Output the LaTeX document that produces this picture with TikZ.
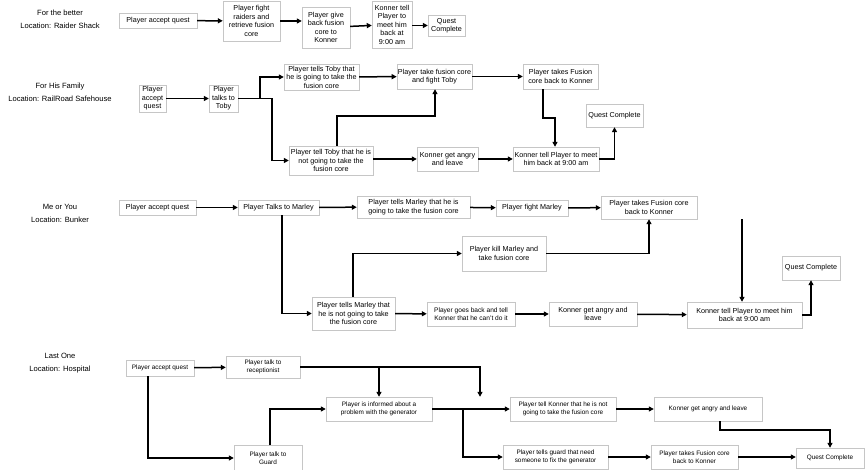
\documentclass[tikz,border=0pt]{standalone}
\usepackage{fontspec}
\setmainfont{Liberation Sans}
\usetikzlibrary{arrows.meta}
\tikzset{box/.style n args={2}{draw=gray!45, fill=white, align=center, inner xsep=1pt, inner ysep=1pt,
           minimum width=#1, minimum height=#2, font=\fontsize{7.2}{8.5}\selectfont},
         sbox/.style n args={2}{box={#1}{#2}, font=\fontsize{6.4}{8}\selectfont},
         arr/.style={-{Triangle[length=5pt,width=5pt]}, line width=1.5pt},
         title/.style={align=center, font=\fontsize{7.6}{13}\selectfont}}
\begin{document}
\begin{tikzpicture}[x=1pt, y=-1pt]
\useasboundingbox (0,0) rectangle (865,470);
% For the better
\node[title] (t1) at (60,19) {For the better\\Location: Raider Shack};
\node[box={78pt}{15pt}] (a1) at (158,20.5) {Player accept quest};
\node[box={57pt}{40pt}] (b1) at (251.5,21) {Player fight\\raiders and\\retrieve fusion\\core};
\node[box={48pt}{41pt}] (c1) at (326,27.5) {Player give\\back fusion\\core to\\Konner};
\node[box={40pt}{47pt}] (d1) at (392,24.5) {Konner tell\\Player to\\meet him\\back at\\9:00 am};
\node[box={37pt}{21pt}] (e1) at (446.5,25.5) {Quest\\Complete};
\draw[arr] (a1) -- (b1);
\draw[arr] (b1) -- (b1 -| c1.west);
\draw[arr] (c1) -- (d1);
\draw[arr] (d1.east |- e1) -- (e1);
% For His Family
\node[title] (t2) at (60,92) {For His Family\\Location: RailRoad Safehouse};
\node[box={27pt}{27pt}] (a2) at (152.5,98.5) {Player\\accept\\quest};
\node[box={29pt}{27pt}] (b2) at (223.5,98.5) {Player\\talks to\\Toby};
\node[box={75pt}{26pt}] (c2) at (321.5,77) {Player tells Toby that\\he is going to take the\\fusion core};
\node[box={84pt}{29pt}] (d2) at (331,160.5) {Player tell Toby that he is\\not going to take the\\fusion core};
\node[box={75pt}{25pt}] (e2) at (434.5,76.5) {Player take fusion core\\and fight Toby};
\node[box={75pt}{25pt}] (f2) at (560.5,76.5) {Player takes Fusion\\core back to Konner};
\node[box={61pt}{24pt}] (g2) at (447.5,159) {Konner get angry\\and leave};
\node[box={86pt}{24pt}] (h2) at (556,159) {Konner tell Player to meet\\him back at 9:00 am};
\node[box={57pt}{23pt}] (i2) at (614.5,115.5) {Quest Complete};
\draw[arr] (a2) -- (b2);
\draw[arr] (b2.east) -- ++(22,0) |- (c2.west);
\draw[arr] (b2.east) -- ++(34,0) |- (d2.west);
\draw[arr] (c2) -- (e2);
\draw[arr] (d2.north -| 337,0) |- (435,116) -- (e2.south -| 435,0);
\draw[arr] (e2) -- (f2);
\draw[arr] (f2.south -| 543,0) |- (555,118) -- (h2.north -| 555,0);
\draw[arr] (d2.east |- g2) -- (g2);
\draw[arr] (g2) -- (h2);
\draw[arr] (h2.east) -| (i2.south);
% Me or You
\node[title] (t3) at (60,213) {Me or You\\Location: Bunker};
\node[box={77pt}{15pt}] (a3) at (157.5,207.5) {Player accept quest};
\node[box={81pt}{15pt}] (b3) at (278.5,207.5) {Player Talks to Marley};
\node[box={113pt}{22pt}] (c3) at (413.5,207) {Player tells Marley that he is\\going to take the fusion core};
\node[box={72pt}{16pt}] (d3) at (532,208) {Player fight Marley};
\node[box={96pt}{23pt}] (e3) at (649,207.5) {Player takes Fusion core\\back to Konner};
\node[box={84pt}{35pt}] (f3) at (504,253.5) {Player kill Marley and\\take fusion core};
\node[box={83pt}{33pt}] (g3) at (353.5,313.5) {Player tells Marley that\\he is not going to take\\the fusion core};
\node[box={88pt}{24pt}, font=\fontsize{6.6}{8}\selectfont] (h3) at (471,314) {Player goes back and tell\\Konner that he can't do it};
\node[box={88pt}{24pt}] (i3) at (593,314) {Konner get angry and\\leave};
\node[box={115pt}{26pt}] (j3) at (744.5,315) {Konner tell Player to meet him\\back at 9:00 am};
\node[box={58pt}{24pt}] (k3) at (811,268) {Quest Complete};
\draw[arr] (a3) -- (b3);
\draw[arr] (b3) -- (c3);
\draw[arr] (c3) -- (d3);
\draw[arr] (d3) -- (e3);
\draw[arr] (e3.south -| 742,0) -- (j3.north -| 742,0);
\draw[arr] (b3.south -| 282,0) |- (g3.west);
\draw[arr] (g3.north -| 353,0) |- (f3.west);
\draw[arr] (f3.east) -| (e3.south);
\draw[arr] (g3) -- (h3);
\draw[arr] (h3) -- (i3);
\draw[arr] (i3) -- (j3);
\draw[arr] (j3.east) -| (k3.south);
% Last One
\node[title] (t4) at (60,363) {Last One\\Location: Hospital};
\node[sbox={68pt}{16pt}] (a4) at (160,368) {Player accept quest};
\node[sbox={74pt}{22pt}] (b4) at (263,367) {Player talk to\\receptionist};
\node[sbox={106pt}{24pt}] (c4) at (379,409) {Player is informed about a\\problem with the generator};
\node[sbox={106pt}{24pt}] (d4) at (563,409) {Player tell Konner that he is not\\going to take the fusion core};
\node[sbox={108pt}{24pt}] (e4) at (708,409) {Konner get angry and leave};
\node[sbox={68pt}{25pt}] (f4) at (268,458) {Player talk to\\Guard};
\node[sbox={105pt}{24pt}] (g4) at (555.5,457) {Player tells guard that need\\someone to fix the generator};
\node[sbox={87pt}{24pt}] (h4) at (694.5,457) {Player takes Fusion core\\back to Konner};
\node[sbox={68pt}{20pt}] (i4) at (830,458) {Quest Complete};
\draw[arr] (a4) -- (b4);
\draw[arr] (b4.east) -| (d4.north -| 480,0);
\draw[arr] (b4.east) -| (c4.north);
\draw[arr] (a4.south -| 148,0) |- (f4.west);
\draw[arr] (f4.north -| 270,0) |- (c4.west);
\draw[arr] (c4) -- (d4);
\draw[arr] (c4.east) -- ++(31,0) |- (g4.west);
\draw[arr] (d4) -- (e4);
\draw[arr] (e4.south -| 720,0) |- (830,430) -- (i4.north);
\draw[arr] (g4) -- (h4);
\draw[arr] (h4.east) -- (i4.west |- h4.east);
\end{tikzpicture}
\end{document}
